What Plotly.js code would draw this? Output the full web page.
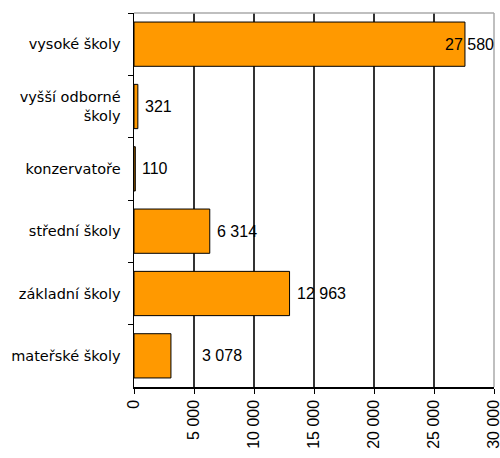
<!DOCTYPE html>
<html><head><meta charset="utf-8">
<script src="https://cdn.plot.ly/plotly-3.0.1.min.js"></script>
<style>html,body{margin:0;padding:0;background:#fff}#c{width:500px;height:458px}</style>
</head><body><div id="c"></div>
<script>
const categories = ["vysoké školy", "vyšší odborné<br>školy", "konzervatoře", "střední školy", "základní školy", "mateřské školy"];
const values = [27580, 321, 110, 6314, 12963, 3078];
const tickValues = [0, 5000, 10000, 15000, 20000, 25000, 30000];
const labelShift = [-22, 5, 5, 5, 5, 29];

function fmt(v){ return String(v).replace(/\B(?=(\d{3})+(?!\d))/g, " "); }

const annotations = values.map((v,i)=>({
  x: v, y: categories[i], xref:'x', yref:'y', text: fmt(v), showarrow:false,
  xanchor:'left', xshift: labelShift[i],
  font:{family:'Liberation Sans, Arial, sans-serif', size:16, color:'#000'}
}));

const trace = {
  type:'bar', orientation:'h', x: values, y: categories,
  marker:{color:'#FF9900', line:{color:'#000', width:1}},
  hoverinfo:'none'
};

const layout = {
  width:500, height:458,
  margin:{l:134, r:6, t:13, b:71},
  paper_bgcolor:'#fff', plot_bgcolor:'#fff',
  separators:'. ',
  bargap:0.29,
  showlegend:false,
  xaxis:{range:[0,30000], tickvals:tickValues, ticktext:tickValues.map(fmt), tickangle:-90,
    ticklabeloverflow:'allow',
    showgrid:true, gridcolor:'#333333', gridwidth:1.5, zeroline:false,
    showline:true, linecolor:'#000', linewidth:1.5, ticks:'outside', ticklen:5, tickcolor:'#000',
    tickfont:{family:'Liberation Sans, Arial, sans-serif', size:16, color:'#000'}, fixedrange:true},
  yaxis:{type:'category', autorange:'reversed', showgrid:false, zeroline:false,
    showline:true, linecolor:'#000', linewidth:1.5, ticks:'outside', ticklen:5, tickcolor:'#000',
    tickson:'boundaries', ticklabelstandoff:9,
    tickfont:{family:'DejaVu Sans, Verdana, sans-serif', size:14.5, color:'#000'}, fixedrange:true},
  shapes:[
    {type:'line', xref:'paper', yref:'paper', x0:0, x1:1, y0:1, y1:1, line:{color:'#aaaaaa', width:1.5}},
    {type:'line', xref:'paper', yref:'paper', x0:1, x1:1, y0:0, y1:1, line:{color:'#aaaaaa', width:1.5}}
  ],
  annotations: annotations
};

Plotly.newPlot('c', [trace], layout, {displayModeBar:false, staticPlot:true});
</script></body></html>
